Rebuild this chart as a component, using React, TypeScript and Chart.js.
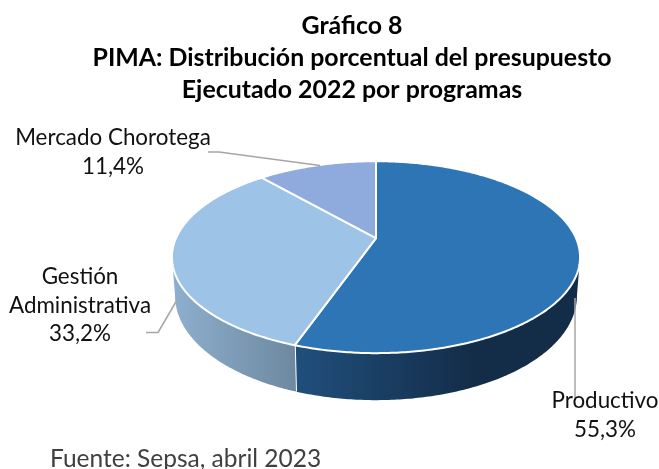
import React, { useEffect, useRef } from "react";
import { Chart, registerables } from "chart.js";

Chart.register(...registerables);

const categories = ["Productivo", "Gestión Administrativa", "Mercado Chorotega"];
const shares = [55.3, 33.2, 11.4];
const titleLines = ["Gráfico 8", "PIMA: Distribución porcentual del presupuesto", "Ejecutado 2022 por programas"];
const sourceNote = "Fuente: Sepsa, abril 2023";
const topColors = ["#2E75B6", "#9DC3E6", "#8FAADC"];
const wallStops = [
  ["#204F7C", "#132D49"],
  ["#8EAFCF", "#6D899F"],
  ["#8FAADC", "#8FAADC"],
];
const labelLines = [
  ["Productivo"],
  ["Gestión", "Administrativa"],
  ["Mercado Chorotega"],
];
const labelSpots = [
  { x: 605, y: 401 },
  { x: 80, y: 277 },
  { x: 113, y: 138 },
];
const leaders = [
  [[575, 298], [575, 398]],
  [[146, 332.5], [158, 332.5], [177, 300]],
  [[208, 152], [219, 152], [320, 165.5]],
];

const FONT = "Lato";
const TILT = 0.198;
const SQUASH = 0.461;
const WALL_FROM = (11.4 * Math.PI) / 180;
const WALL_TO = Math.PI - WALL_FROM;
const SHIFT_X = 24;

const pie3d = {
  id: "pie3d",
  beforeDatasetsDraw(chart: any) {
    const { ctx } = chart;
    const arcs = chart.getDatasetMeta(0).data;
    const cx0 = arcs[0].x + SHIFT_X;
    const cy0 = arcs[0].y;
    const R = arcs[0].outerRadius;
    const rim = (a: number) => {
      const d = 1 - TILT * Math.sin(a);
      return [cx0 + (R * Math.cos(a)) / d, cy0 + (SQUASH * R * Math.sin(a)) / d];
    };
    const foot = (a: number) => {
      const [x, y] = rim(a);
      return [cx0 + (x - cx0) * 0.985, y + 36 + 11 * Math.sin(a)];
    };
    const sweep = (from: number, to: number, fn: (a: number) => number[]) => {
      const n = Math.max(2, Math.ceil(Math.abs(to - from) * 90));
      const out = [];
      for (let i = 0; i <= n; i++) out.push(fn(from + ((to - from) * i) / n));
      return out;
    };
    ctx.save();
    ctx.lineJoin = "round";

    arcs.forEach((arc: any, i: number) => {
      const from = Math.max(arc.startAngle, WALL_FROM);
      const to = Math.min(arc.endAngle, WALL_TO);
      if (to <= from) return;
      const upper = sweep(from, to, rim);
      const lower = sweep(to, from, foot);
      const pts = [...upper, ...lower];
      const xs = pts.map((p) => p[0]);
      const left = Math.min(...xs);
      const right = Math.max(...xs);
      const g = ctx.createLinearGradient(left, 0, i === 0 ? left + (right - left) * 0.62 : right, 0);
      g.addColorStop(0, wallStops[i][0]);
      g.addColorStop(1, wallStops[i][1]);
      ctx.beginPath();
      pts.forEach((p, k) => (k ? ctx.lineTo(p[0], p[1]) : ctx.moveTo(p[0], p[1])));
      ctx.closePath();
      ctx.fillStyle = g;
      ctx.fill();
      if (i === 0) {
        const a = rim(to);
        const b = foot(to);
        ctx.beginPath();
        ctx.moveTo(a[0], a[1]);
        ctx.lineTo(b[0], b[1]);
        ctx.strokeStyle = "#FFFFFF";
        ctx.lineWidth = 2;
        ctx.stroke();
      }
    });

    arcs.forEach((arc: any) => {
      const pts = sweep(arc.startAngle, arc.endAngle, rim);
      ctx.beginPath();
      ctx.moveTo(cx0, cy0);
      pts.forEach((p) => ctx.lineTo(p[0], p[1]));
      ctx.closePath();
      ctx.fillStyle = arc.options.backgroundColor;
      ctx.fill();
      ctx.strokeStyle = "#FFFFFF";
      ctx.lineWidth = 2;
      ctx.stroke();
    });

    ctx.strokeStyle = "#A6A6A6";
    ctx.lineWidth = 1.5;
    leaders.forEach((path) => {
      ctx.beginPath();
      path.forEach((p, k) => (k ? ctx.lineTo(p[0], p[1]) : ctx.moveTo(p[0], p[1])));
      ctx.stroke();
    });

    ctx.fillStyle = "#111111";
    ctx.font = `22.4px ${FONT}`;
    ctx.textAlign = "center";
    ctx.textBaseline = "middle";
    categories.forEach((_, i) => {
      const lines = [...labelLines[i], `${shares[i].toFixed(1).replace(".", ",")}%`];
      lines.forEach((line, k) => ctx.fillText(line, labelSpots[i].x, labelSpots[i].y + k * 28.5));
    });

    ctx.fillStyle = "#404040";
    ctx.font = `24.5px ${FONT}`;
    ctx.textAlign = "left";
    ctx.fillText(sourceNote, 50, 459);
    ctx.restore();
    return false;
  },
};

export default function App() {
  const ref = useRef<HTMLCanvasElement>(null);
  useEffect(() => {
    document.body.style.margin = "0";
    const chart = new Chart(ref.current!, {
      type: "pie",
      data: {
        labels: categories,
        datasets: [{ data: shares, backgroundColor: topColors, radius: 200 }],
      },
      options: {
        responsive: false,
        animation: false,
        layout: { padding: { left: 60, right: 15, top: 10, bottom: 99 } },
        plugins: {
          legend: { display: false },
          tooltip: { enabled: false },
          title: {
            display: true,
            text: titleLines,
            color: "#000000",
            padding: 0,
            font: { family: FONT, size: 24.9, weight: "bold", lineHeight: 1.29 },
          },
        },
      },
      plugins: [pie3d],
    } as any);
    return () => chart.destroy();
  }, []);
  return <canvas ref={ref} width={659} height={469} style={{ display: "block" }} />;
}
